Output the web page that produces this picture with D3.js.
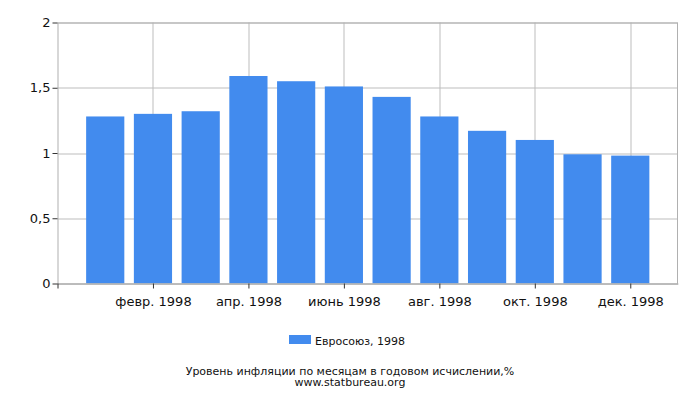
<!DOCTYPE html>
<html>
<head>
<meta charset="utf-8">
<script src="https://cdn.jsdelivr.net/npm/d3@7"></script>
<style>
  body { margin: 0; background: #fff; }
  text { font-family: "DejaVu Sans", sans-serif; fill: #111; }
</style>
</head>
<body>
<div id="chart"></div>
<script>
// data
const months = ["янв. 1998", "февр. 1998", "март 1998", "апр. 1998", "май 1998", "июнь 1998",
                "июль 1998", "авг. 1998", "сент. 1998", "окт. 1998", "нояб. 1998", "дек. 1998"];
const values = [1.28, 1.30, 1.32, 1.59, 1.55, 1.51, 1.43, 1.28, 1.17, 1.10, 0.99, 0.98];
const xTicks = ["февр. 1998", "апр. 1998", "июнь 1998", "авг. 1998", "окт. 1998", "дек. 1998"];
const yTicks = [0, 0.5, 1, 1.5, 2];
const seriesName = "Евросоюз, 1998";
const title = "Уровень инфляции по месяцам в годовом исчислении,%";
const source = "www.statbureau.org";

const W = 700, H = 400;
const margin = {top: 22.5, right: 22, bottom: 116.5, left: 57.5};
const width = W - margin.left - margin.right;
const height = H - margin.top - margin.bottom;

const svg = d3.select("#chart").append("svg")
  .attr("width", W)
  .attr("height", H);

const g = svg.append("g")
  .attr("transform", `translate(${margin.left},${margin.top})`);

const x = d3.scalePoint()
  .domain(months)
  .range([0, width])
  .padding(1);

const y = d3.scaleLinear()
  .domain([0, 2])
  .range([height, 0]);

// grid
g.append("g").selectAll("line")
  .data(yTicks)
  .join("line")
  .attr("x1", 0).attr("x2", width)
  .attr("y1", d => Math.round(y(d)) + 0.5).attr("y2", d => Math.round(y(d)) + 0.5)
  .attr("stroke", "#bdbdbd");

g.append("g").selectAll("line")
  .data(xTicks)
  .join("line")
  .attr("x1", d => Math.round(x(d)) + 0.5).attr("x2", d => Math.round(x(d)) + 0.5)
  .attr("y1", 0).attr("y2", height)
  .attr("stroke", "#bdbdbd");

// bars
const barW = x.step() * 0.8;
g.append("g").selectAll("rect")
  .data(values)
  .join("rect")
  .attr("x", (d, i) => x(months[i]) - barW / 2)
  .attr("y", d => y(d))
  .attr("width", barW)
  .attr("height", d => height - y(d))
  .attr("fill", "#428bee");

// frame
g.append("rect")
  .attr("x", 0.5).attr("y", 0.5)
  .attr("width", width - 1).attr("height", height)
  .attr("fill", "none")
  .attr("stroke", "#b0b0b0");

// axes
const fmt = d => d3.format(".1f")(d).replace(/\.0$/, "").replace(".", ",");
const yAxis = g.append("g")
  .call(d3.axisLeft(y).tickValues(yTicks).tickFormat(fmt).tickSize(5).tickSizeOuter(0));
yAxis.select(".domain").remove();
yAxis.selectAll("line").attr("stroke", "#333");
yAxis.selectAll("text").attr("font-size", 13).attr("dx", 1);

const xAxis = g.append("g")
  .attr("transform", `translate(0,${height})`)
  .call(d3.axisBottom(x).tickValues(xTicks).tickSize(5).tickSizeOuter(0));
xAxis.select(".domain").attr("stroke", "#b0b0b0");
xAxis.selectAll("line").attr("stroke", "#333");
xAxis.selectAll("text").attr("font-size", 13).attr("dy", "1.1em");
// left edge tick
xAxis.append("line")
  .attr("x1", 0.5).attr("x2", 0.5).attr("y1", 0).attr("y2", 5)
  .attr("stroke", "#333");

// legend
const legend = svg.append("g").attr("transform", "translate(289,335)");
legend.append("rect").attr("width", 22).attr("height", 9).attr("fill", "#428bee");
legend.append("text").attr("x", 26).attr("y", 9.5).attr("font-size", 11).text(seriesName);

// title
svg.append("text").attr("x", W / 2).attr("y", 374.5).attr("text-anchor", "middle")
  .attr("font-size", 11).text(title);
svg.append("text").attr("x", W / 2).attr("y", 386).attr("text-anchor", "middle")
  .attr("font-size", 11).text(source);
</script>
</body>
</html>
